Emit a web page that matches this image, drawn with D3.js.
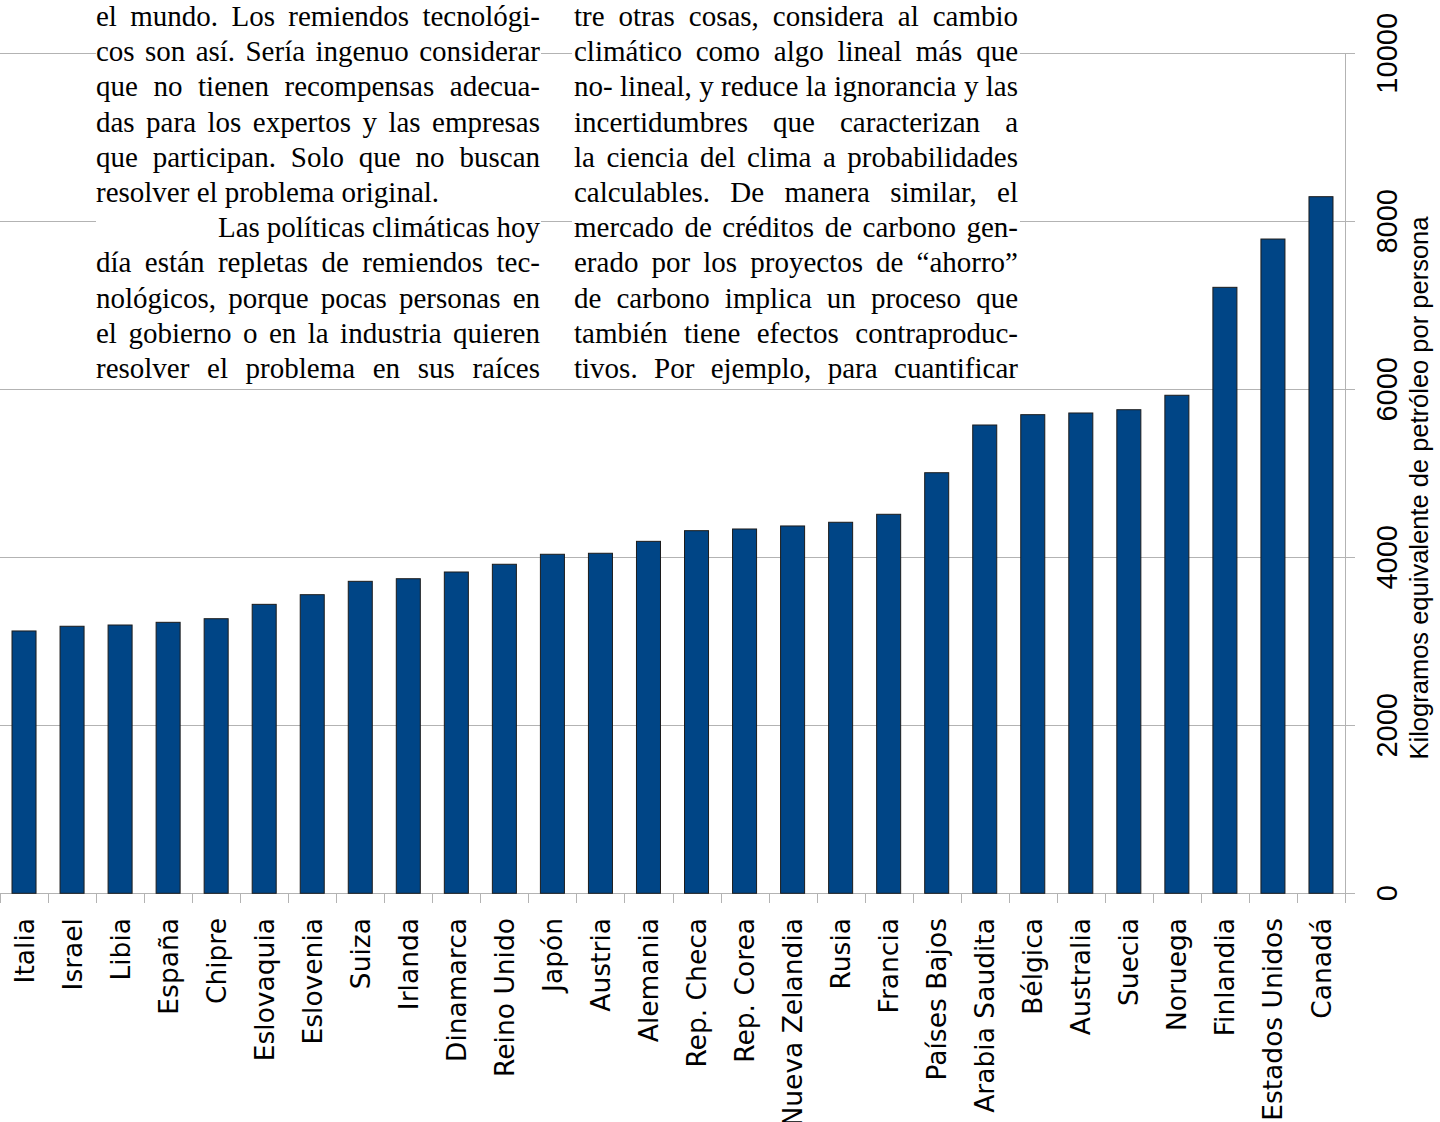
<!DOCTYPE html>
<html lang="es">
<head>
<meta charset="utf-8" />
<title>Consumo de energía por persona</title>
<script src="https://d3js.org/d3.v7.min.js"></script>
<style>
    body { margin: 0; background: #fff; }
    svg { display: block; }
    .grid line { stroke: #b3b3b3; stroke-width: 1; }
    .bar { fill: #004586; stroke: #1c1c1c; stroke-width: 1; }
    .cat { font-family: "DejaVu Sans", sans-serif; font-size: 26.5px; fill: #000; }
    .tick-label { font-family: "Liberation Sans", Arial, sans-serif; font-size: 29px; fill: #000; }
    .ytitle { font-family: "Liberation Sans", Arial, sans-serif; font-size: 25.5px; fill: #000; }
    .page { font-family: "Liberation Serif", "Times New Roman", serif; font-size: 29px; fill: #000; }
</style>
</head>
<body>
<svg width="1440" height="1122"></svg>
<script>
    // data (kg equivalente de petróleo por persona)
    var countries = ["Italia", "Israel", "Libia", "España", "Chipre", "Eslovaquia", "Eslovenia",
        "Suiza", "Irlanda", "Dinamarca", "Reino Unido", "Japón", "Austria", "Alemania",
        "Rep. Checa", "Rep. Corea", "Nueva Zelandia", "Rusia", "Francia", "Países Bajos",
        "Arabia Saudita", "Bélgica", "Australia", "Suecia", "Noruega", "Finlandia",
        "Estados Unidos", "Canadá"];
    var values = [3123, 3179, 3194, 3226, 3269, 3440, 3555,
        3714, 3745, 3825, 3917, 4036, 4048, 4190,
        4317, 4337, 4373, 4417, 4512, 5007,
        5575, 5698, 5718, 5757, 5929, 7214,
        7789, 8293];
    var yTicks = [0, 2000, 4000, 6000, 8000, 10000];
    var yTitle = "Kilogramos equivalente de petróleo por persona";

    // the book text printed over the chart
    var column1 = [
        "el mundo. Los remiendos tecnológi-",
        "cos son así. Sería ingenuo considerar",
        "que no tienen recompensas adecua-",
        "das para los expertos y las empresas",
        "que participan. Solo que no buscan",
        "resolver el problema original.",
        "Las políticas climáticas hoy",
        "día están repletas de remiendos tec-",
        "nológicos, porque pocas personas en",
        "el gobierno o en la industria quieren",
        "resolver el problema en sus raíces"
    ];
    var column2 = [
        "tre otras cosas, considera al cambio",
        "climático como algo lineal más que",
        "no- lineal, y reduce la ignorancia y las",
        "incertidumbres que caracterizan a",
        "la ciencia del clima a probabilidades",
        "calculables. De manera similar, el",
        "mercado de créditos de carbono gen-",
        "erado por los proyectos de “ahorro”",
        "de carbono implica un proceso que",
        "también tiene efectos contraproduc-",
        "tivos. Por ejemplo, para cuantificar"
    ];

    var svg = d3.select("svg");
    var plotLeft = 0, plotRight = 1345, plotTop = 53.3, plotBottom = 893.3;

    var x = d3.scaleBand().domain(countries).range([plotLeft, plotRight])
        .paddingInner(0.5).paddingOuter(0.25);
    var y = d3.scaleLinear().domain([0, 10000]).range([plotBottom, plotTop]);
    var step = x.step();

    // horizontal grid, extended past the right axis as tick marks
    var grid = svg.append("g").attr("class", "grid");
    grid.selectAll("line.h").data(yTicks).enter().append("line")
        .attr("class", "h")
        .attr("x1", plotLeft).attr("x2", plotRight + 10)
        .attr("y1", function (d) { return Math.round(y(d)) + 0.5; })
        .attr("y2", function (d) { return Math.round(y(d)) + 0.5; });
    // right axis line
    grid.append("line")
        .attr("x1", plotRight + 0.5).attr("x2", plotRight + 0.5)
        .attr("y1", Math.round(y(10000))).attr("y2", Math.round(y(0)) + 10);
    // category boundary ticks
    var bounds = d3.range(countries.length + 1).map(function (i) { return plotLeft + i * step; });
    grid.selectAll("line.v").data(bounds).enter().append("line")
        .attr("class", "v")
        .attr("x1", function (d) { return Math.round(d) + 0.5; })
        .attr("x2", function (d) { return Math.round(d) + 0.5; })
        .attr("y1", Math.round(y(0))).attr("y2", Math.round(y(0)) + 10);

    // bars
    var data = countries.map(function (c, i) { return { country: c, value: values[i] }; });
    svg.append("g").selectAll("rect").data(data).enter().append("rect")
        .attr("class", "bar")
        .attr("x", function (d) { return x(d.country); })
        .attr("width", x.bandwidth())
        .attr("y", function (d) { return y(d.value); })
        .attr("height", function (d) { return y(0) - y(d.value); });

    // category labels
    svg.append("g").selectAll("text").data(countries).enter().append("text")
        .attr("class", "cat")
        .attr("transform", function (d) {
            return "translate(" + (x(d) + x.bandwidth() / 2) + ",918) rotate(-90)";
        })
        .attr("text-anchor", "end")
        .attr("dy", "0.36em")
        .text(function (d) { return d; });

    // value axis labels (rotated, right side)
    svg.append("g").selectAll("text").data(yTicks).enter().append("text")
        .attr("class", "tick-label")
        .attr("transform", function (d) { return "translate(1397," + y(d) + ") rotate(-90)"; })
        .attr("text-anchor", "middle")
        .text(function (d) { return d; });

    svg.append("text")
        .attr("class", "ytitle")
        .attr("transform", "translate(1428,488) rotate(-90)")
        .attr("text-anchor", "middle")
        .text(yTitle);

    // page text boxes on top of the chart
    function drawColumn(lines, left, right, boxLeft, boxRight) {
        var g = svg.append("g");
        g.append("rect")
            .attr("x", boxLeft).attr("y", 0)
            .attr("width", boxRight - boxLeft).attr("height", 387)
            .attr("fill", "#fff");
        lines.forEach(function (line, i) {
            var baseline = 26 + 35.2 * i;
            var indent = (line.indexOf("Las políticas") === 0) ? 122 : 0;
            var justify = !/original\.$/.test(line);
            var words = line.split(" ");
            var t = g.append("text").attr("class", "page").attr("y", baseline);
            var spans = words.map(function (w) { return t.append("tspan").text(w); });
            var widths = spans.map(function (s) { return s.node().getComputedTextLength(); });
            var total = d3.sum(widths);
            var gap = spans.length > 1 && justify
                ? (right - left - indent - total) / (spans.length - 1)
                : 7.25;
            var cx = left + indent;
            spans.forEach(function (s, k) {
                s.attr("x", cx);
                cx += widths[k] + gap;
            });
        });
    }
    drawColumn(column1, 96, 540, 96, 541);
    drawColumn(column2, 574, 1018, 572, 1020);
</script>
</body>
</html>
